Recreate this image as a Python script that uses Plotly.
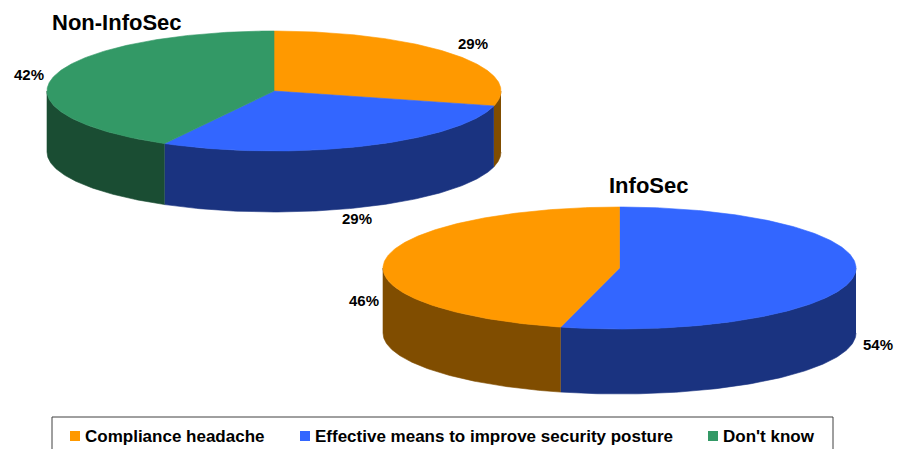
import numpy as np
import plotly.graph_objects as go

# Survey shares, listed clockwise from 12 o'clock
categories = ["Compliance headache", "Effective means to improve security posture", "Don't know"]
non_infosec_order = ["Compliance headache", "Effective means to improve security posture", "Don't know"]
non_infosec_values = [29, 29, 42]
infosec_order = ["Effective means to improve security posture", "Compliance headache"]
infosec_values = [54, 46]

TOP = {categories[0]: "#FF9900", categories[1]: "#3366FF", categories[2]: "#339966"}
SIDE = {categories[0]: "#804D00", categories[1]: "#1A3380", categories[2]: "#1A4D33"}
FONT = "Liberation Sans"

fig = go.Figure()


def ellipse(cx, cy, rx, ry, t):
    return cx + rx * np.sin(t), cy - ry * np.cos(t)


def area(x, y, color):
    fig.add_trace(go.Scatter(x=x, y=y, mode="lines", fill="toself", fillcolor=color,
                             line=dict(color=color, width=0.6), hoverinfo="skip", showlegend=False))


def tilted_pie(order, values, cx, cy, rx, ry, depth, label_pos):
    edges = np.cumsum([0] + values) / sum(values) * 2 * np.pi
    # Rim first, only the part that faces the viewer (90 to 270 degrees)
    for name, a, b in zip(order, edges[:-1], edges[1:]):
        lo, hi = max(a, np.pi / 2), min(b, 3 * np.pi / 2)
        if lo < hi:
            t = np.linspace(lo, hi, 120)
            x, y = ellipse(cx, cy, rx, ry, t)
            area(np.r_[x, x[::-1]], np.r_[y, y[::-1] + depth], SIDE[name])
    # Then the top face, one wedge per value
    for name, a, b in zip(order, edges[:-1], edges[1:]):
        t = np.linspace(a, b, 240)
        x, y = ellipse(cx, cy, rx, ry, t)
        area(np.r_[cx, x, cx], np.r_[cy, y, cy], TOP[name])
    for value, (lx, ly) in zip(values, label_pos):
        fig.add_annotation(x=lx, y=ly, text=f"<b>{value}%</b>", showarrow=False,
                           font=dict(family=FONT, size=15, color="black"))


tilted_pie(non_infosec_order, non_infosec_values, 274, 91, 227, 60, 61,
           [(473, 43), (357, 218), (29, 74)])
tilted_pie(infosec_order, infosec_values, 619.5, 268, 236.5, 61, 65,
           [(878, 344), (364, 300)])

fig.add_annotation(x=50, y=22, text="<b>Non-InfoSec</b>", showarrow=False, xanchor="left",
                   font=dict(family=FONT, size=22, color="black"))
fig.add_annotation(x=607, y=185, text="<b>InfoSec</b>", showarrow=False, xanchor="left",
                   font=dict(family=FONT, size=22, color="black"))

# Key along the bottom edge; its box runs past the bottom of the page
fig.add_shape(type="rect", x0=52, x1=833, y0=417, y1=470, line=dict(color="#404040", width=1))
swatch_x = [75, 305, 713]
text_x = [83, 313, 721]
fig.add_trace(go.Scatter(x=swatch_x, y=[436] * 3, mode="markers", hoverinfo="skip", showlegend=False,
                         marker=dict(symbol="square", size=10, color=[TOP[c] for c in categories])))
for name, lx in zip(categories, text_x):
    fig.add_annotation(x=lx, y=436, text=f"<b>{name}</b>", showarrow=False, xanchor="left",
                       font=dict(family=FONT, size=17, color="black"))

fig.update_layout(
    width=905, height=449, margin=dict(l=0, r=0, t=0, b=0),
    paper_bgcolor="white", plot_bgcolor="white", showlegend=False,
    xaxis=dict(range=[0, 905], visible=False, fixedrange=True),
    yaxis=dict(range=[449, 0], visible=False, fixedrange=True),
)
fig.write_html("out.html", config={"displayModeBar": False})
